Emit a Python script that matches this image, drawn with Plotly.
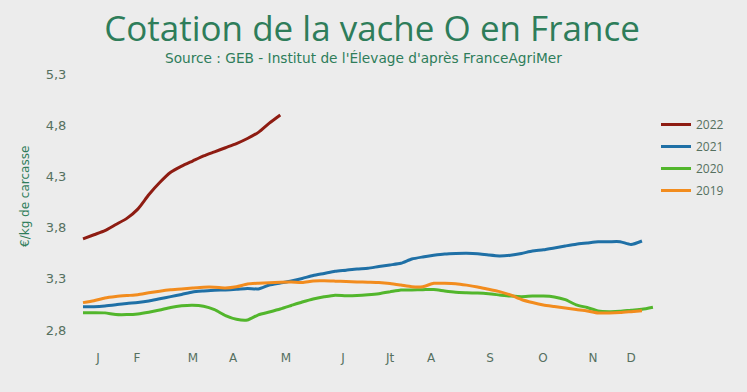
import plotly.graph_objects as go

# ---- data (€/kg carcasse, weekly) ----
weeks_2022 = list(range(1, 20))
y2022 = [3.69, 3.73, 3.77, 3.83, 3.89, 3.98, 4.12, 4.24, 4.34, 4.40, 4.45, 4.50,
         4.54, 4.58, 4.62, 4.67, 4.73, 4.82, 4.90]

weeks_2021 = list(range(1, 53))
y2021 = [3.028, 3.028, 3.034, 3.046, 3.059, 3.068, 3.083, 3.105, 3.126, 3.147,
         3.171, 3.181, 3.189, 3.191, 3.197, 3.206, 3.201, 3.239, 3.259, 3.279,
         3.303, 3.332, 3.352, 3.373, 3.384, 3.396, 3.402, 3.420, 3.435, 3.451,
         3.493, 3.513, 3.529, 3.542, 3.547, 3.549, 3.545, 3.532, 3.523, 3.530,
         3.547, 3.571, 3.583, 3.601, 3.620, 3.638, 3.650, 3.662, 3.662, 3.662,
         3.635, 3.669]

weeks_2020 = list(range(1, 54))
y2020 = [2.969, 2.969, 2.967, 2.951, 2.950, 2.956, 2.973, 2.995, 3.020, 3.036,
         3.042, 3.032, 2.998, 2.941, 2.905, 2.898, 2.948, 2.976, 3.005, 3.039,
         3.073, 3.103, 3.124, 3.140, 3.134, 3.136, 3.143, 3.154, 3.172, 3.191,
         3.191, 3.193, 3.196, 3.181, 3.169, 3.164, 3.160, 3.153, 3.142, 3.132,
         3.125, 3.131, 3.132, 3.123, 3.096, 3.046, 3.019, 2.986, 2.979, 2.982,
         2.993, 3.002, 3.022]

weeks_2019 = list(range(1, 53))
y2019 = [3.067, 3.086, 3.113, 3.127, 3.136, 3.144, 3.163, 3.179, 3.192, 3.200,
         3.210, 3.218, 3.218, 3.210, 3.222, 3.249, 3.257, 3.262, 3.267, 3.269,
         3.264, 3.279, 3.280, 3.277, 3.273, 3.269, 3.266, 3.263, 3.254, 3.239,
         3.223, 3.223, 3.256, 3.256, 3.252, 3.238, 3.220, 3.197, 3.175, 3.142,
         3.098, 3.068, 3.044, 3.029, 3.015, 3.000, 2.986, 2.966, 2.966, 2.970,
         2.979, 2.988]

month_pos = [2.37, 5.93, 11.04, 14.69, 19.52, 24.72, 29.01, 32.75, 38.14, 42.97, 47.53, 51.0]
month_labels = ["J", "F", "M", "A", "M", "J", "Jt", "A", "S", "O", "N", "D"]

y_ticks = [2.8, 3.3, 3.8, 4.3, 4.8, 5.3]
y_ticklabels = ["2,8", "3,3", "3,8", "4,3", "4,8", "5,3"]

W, H = 747, 392
ML, MR, MT, MB = 75, 82, 70, 57
PW, PH = W - ML - MR, H - MT - MB

BG = "#ececec"
GREEN_TXT = "#2e7d5a"
TICK_TXT = "#55705f"

fig = go.Figure()
series = [
    ("2022", weeks_2022, y2022, "#8e1c12"),
    ("2021", weeks_2021, y2021, "#1f70a6"),
    ("2020", weeks_2020, y2020, "#52b62c"),
    ("2019", weeks_2019, y2019, "#f28c1e"),
]
for name, xs, ys, col in series:
    fig.add_trace(go.Scatter(x=xs, y=ys, mode="lines", name=name, legendgroup=name,
                             line=dict(color=col, width=3, shape="spline", smoothing=0.6)))

fig.update_layout(
    width=W, height=H,
    paper_bgcolor=BG, plot_bgcolor=BG,
    margin=dict(l=ML, r=MR, t=MT, b=MB, autoexpand=False),
    font=dict(family="Open Sans", color=TICK_TXT, size=12),
    separators=", ",
    title=dict(text="Cotation de la vache O en France",
               font=dict(family="Open Sans", size=35, color=GREEN_TXT),
               x=372 / W, xanchor="center", y=1 - 29 / H, yanchor="middle",
               xref="container", yref="container"),
    showlegend=True,
    legend=dict(xref="container", yref="container",
                x=656 / W, y=1 - 110 / H, xanchor="left", yanchor="top",
                tracegroupgap=3,
                bgcolor="rgba(0,0,0,0)", font=dict(size=12, color=TICK_TXT)),
    annotations=[
        dict(text="Source : GEB - Institut de l'Élevage d'après FranceAgriMer",
             x=(363 - ML) / PW, xref="paper", y=(H - MB - 58) / PH, yref="paper",
             xanchor="center", yanchor="middle", showarrow=False,
             font=dict(family="DejaVu Sans", size=13.7, color=GREEN_TXT)),
        dict(text="€/kg de carcasse", textangle=-90,
             x=(25 - ML) / PW, xref="paper", y=(H - MB - 197) / PH, yref="paper",
             xanchor="center", yanchor="middle", showarrow=False,
             font=dict(family="DejaVu Sans", size=12, color=GREEN_TXT)),
    ],
)

fig.update_xaxes(range=[0.27, 54.1], tickvals=month_pos, ticktext=month_labels,
                 showgrid=False, zeroline=False, showline=False,
                 ticks="outside", ticklen=12, tickcolor=BG,
                 tickfont=dict(family="DejaVu Sans", size=12, color=TICK_TXT))
fig.update_yaxes(range=[2.751, 5.339], tickvals=y_ticks, ticktext=y_ticklabels,
                 showgrid=False, zeroline=False, showline=False,
                 ticks="outside", ticklen=5, tickcolor=BG,
                 tickfont=dict(family="DejaVu Sans", size=13, color=TICK_TXT))

fig.write_html("out.html", config={"displayModeBar": False},
               post_script="document.body.style.margin='0';")
